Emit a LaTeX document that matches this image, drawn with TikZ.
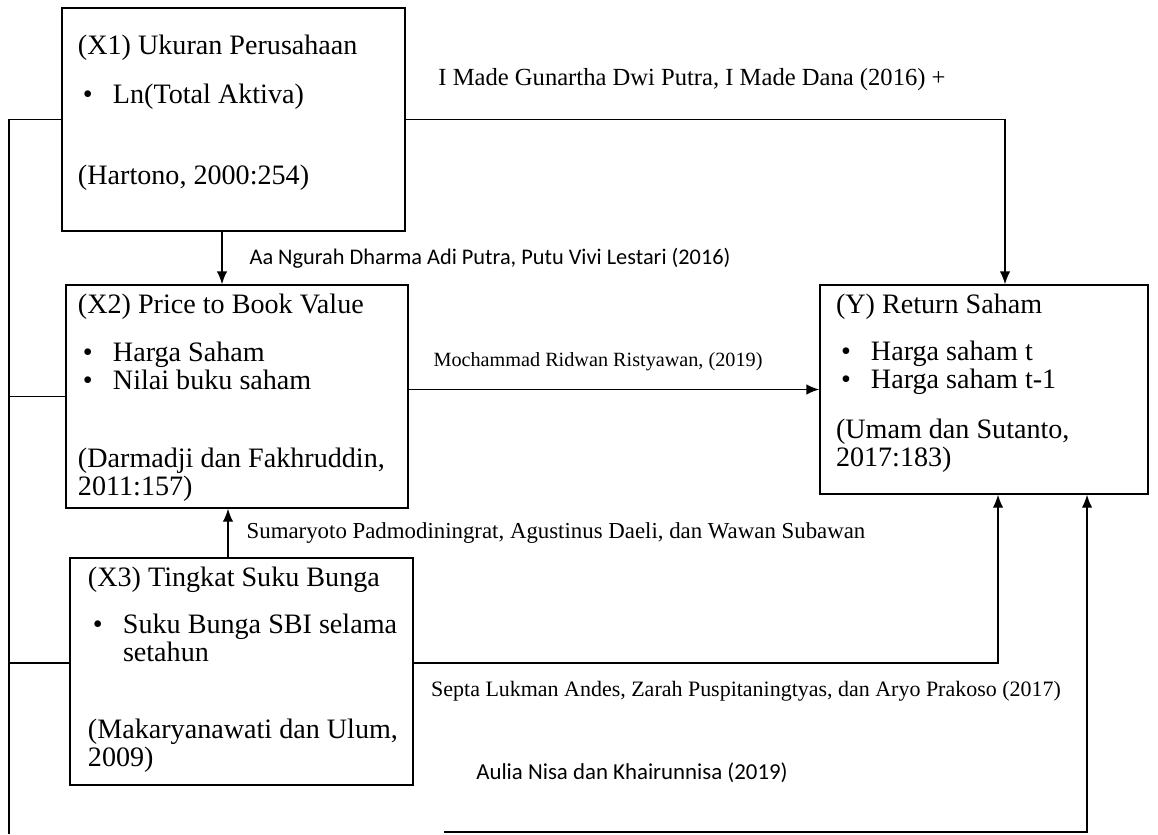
\documentclass[tikz,border=0pt]{standalone}
\usepackage{fontspec}
\setmainfont{Liberation Serif}
\newfontfamily\calibri{Carlito}
\usepackage{tikz}
\usetikzlibrary{positioning}
\usetikzlibrary{arrows.meta}
\tikzset{edge/.style = {->,> = {Latex[length=2.6mm,width=2.1mm]}, line width=0.8pt}}
\newcommand{\itm}[1]{\hspace{1mm}\makebox[6mm][l]{\textbullet}#1}

\begin{document}
\begin{tikzpicture}[x=0.2mm,y=-0.2mm,line width=0.8pt,
  box/.style={draw,inner sep=0pt},
  inside/.style={inner sep=0pt,align=left,anchor=north west,font=\fontsize{16}{16}\selectfont},
  lbl/.style={inner sep=0pt}]
\useasboundingbox (0,0) rectangle (1158,834);

% variable boxes
\node[box,minimum width=68.6mm,minimum height=44.6mm] (x1) at (233.5,119.5) {};
\node[box,minimum width=68.4mm,minimum height=44.6mm] (x2) at (237,396.5) {};
\node[box,minimum width=68.6mm,minimum height=45.4mm] (x3) at (241.5,671.5) {};
\node[box,minimum width=65.6mm,minimum height=41.8mm] (y) at (984,389.5) {};

\node[inside] (x1t) at ([xshift=3.2mm,yshift=-5.4mm]x1.north west)
  {(X1) Ukuran Perusahaan\\[11.9pt]
   \itm{Ln(Total Aktiva)}\\[30pt]
   (Hartono, 2000:254)};
\node[inside] (x2t) at ([xshift=2.4mm,yshift=-1.8mm]x2.north west)
  {(X2) Price to Book Value\\[11.3pt]
   \itm{Harga Saham}\\
   \itm{Nilai buku saham}\\[28.4pt]
   (Darmadji dan Fakhruddin,\\
   2011:157)};
\node[inside] (x3t) at ([xshift=3.6mm,yshift=-1.8mm]x3.north west)
  {(X3) Tingkat Suku Bunga\\[10.7pt]
   \itm{Suku Bunga SBI selama}\\
   \hspace{7mm}setahun\\[27.7pt]
   (Makaryanawati dan Ulum,\\
   2009)};
\node[inside] (yt) at ([xshift=3.2mm,yshift=-1.8mm]y.north west)
  {(Y) Return Saham\\[10.8pt]
   \itm{Harga saham t}\\
   \itm{Harga saham t-1}\\[12.5pt]
   (Umam dan Sutanto,\\
   2017:183)};

% references
\node[lbl,font=\fontsize{14}{14}\selectfont] (l1) at (692,80) {I Made Gunartha Dwi Putra, I Made Dana (2016) +};
\node[lbl,font=\calibri\fontsize{12.7}{13}\selectfont] (l2) at (490,258) {Aa Ngurah Dharma Adi Putra, Putu Vivi Lestari (2016)};
\node[lbl,font=\fontsize{11.5}{12}\selectfont] (l3) at (598,362) {Mochammad Ridwan Ristyawan, (2019)};
\node[lbl,font=\fontsize{13}{13}\selectfont] (l4) at (556,533) {Sumaryoto Padmodiningrat, Agustinus Daeli, dan Wawan Subawan};
\node[lbl,font=\fontsize{12.5}{13}\selectfont] (l5) at (746,691) {Septa Lukman Andes, Zarah Puspitaningtyas, dan Aryo Prakoso (2017)};
\node[lbl,font=\calibri\fontsize{13}{13}\selectfont] (l6) at (632,773) {Aulia Nisa dan Khairunnisa (2019)};

\coordinate (busend) at (9,834);
\coordinate (bot) at (444,832);

% connectors
\draw[edge] (x1.east) -| ([xshift=4.2mm]y.north);
\draw[edge] ([xshift=-2.3mm]x1.south) -- ([xshift=-2.3mm]x1.south |- x2.north);
\draw[edge] (x2.east |- y.west) -- (y.west);
\draw[edge] ([xshift=-2.7mm]x3.north) -- ([xshift=-2.7mm]x3.north |- x2.south);
\draw[edge] ([yshift=1.7mm]x3.east) -| ([xshift=2.8mm]y.south);
\draw[edge] (bot) -| ([xshift=20.6mm]y.south);
\draw (x1.west) -| (busend);
\draw (x2.west) -- (x2.west -| busend);
\draw ([yshift=1.7mm]x3.west) -- ([yshift=1.7mm]x3.west -| busend);
\end{tikzpicture}
\end{document}
